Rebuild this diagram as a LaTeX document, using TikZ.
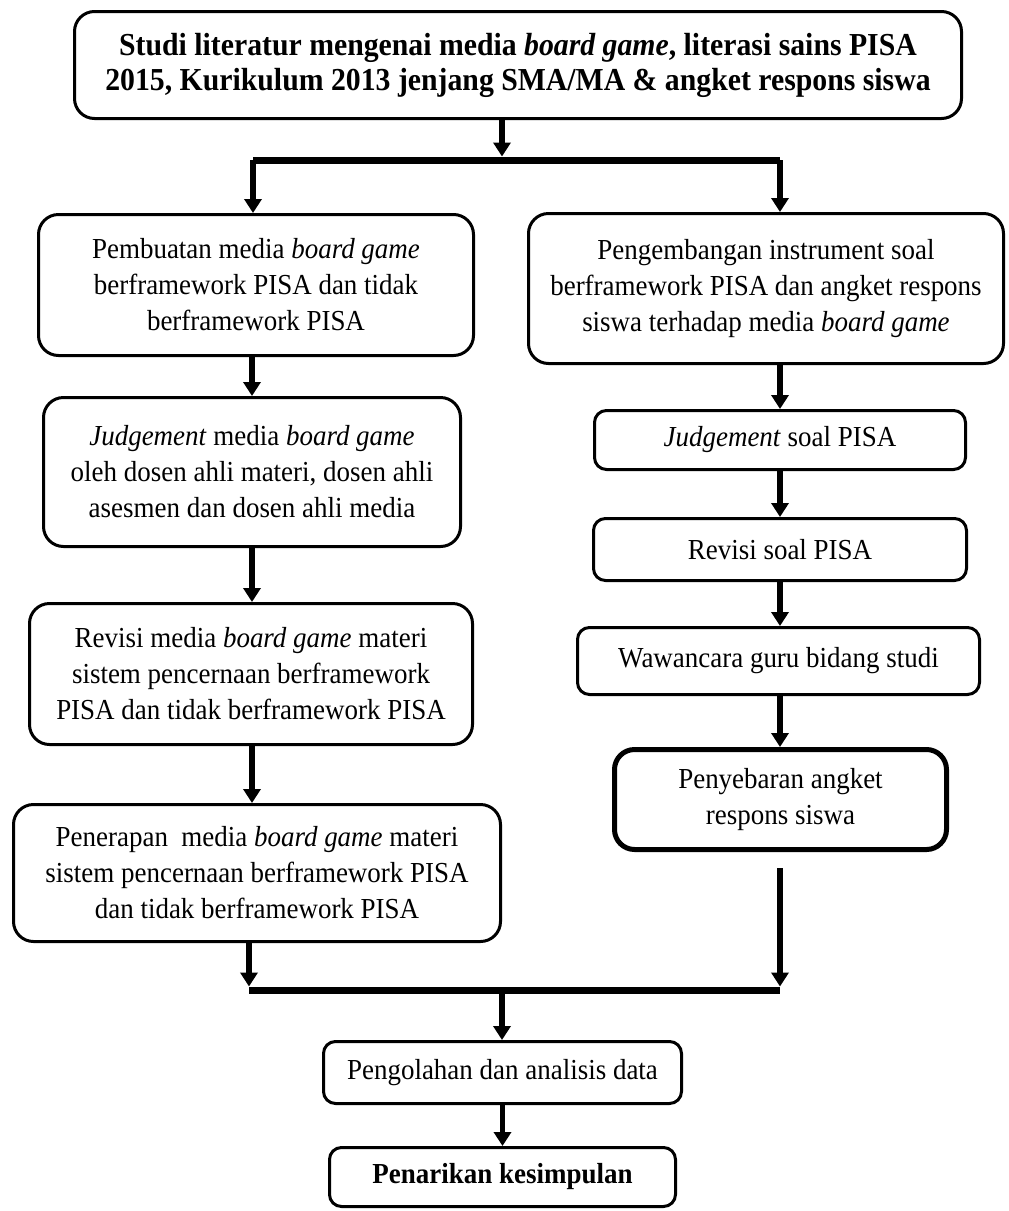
\documentclass[tikz,border=0pt]{standalone}
\usepackage{fontspec}
\setmainfont{Liberation Serif}[FakeStretch=0.93]
\usetikzlibrary{arrows.meta}

\begin{document}
\begin{tikzpicture}[x=0.5pt, y=-0.5pt,
    box/.style={draw, line width=1.5pt, rounded corners=10pt, align=center, inner sep=0pt, font=\fontsize{14.5}{18}\selectfont},
    smallbox/.style={box, rounded corners=6pt},
    arr/.style={line width=2.8pt, -{Triangle[width=8.5pt,length=7pt]}},
    bus/.style={line width=3.5pt}]
    \useasboundingbox (0,0) rectangle (1008,1211);
    \fill[white] (0,0) rectangle (1008,1211);

    \node[box, font=\fontsize{16}{17.5}\selectfont\bfseries, minimum width=443.5pt, minimum height=53.5pt] (studi) at (518,65)
        {Studi literatur mengenai media \textit{board game}, literasi sains PISA\\2015, Kurikulum 2013 jenjang SMA/MA \& angket respons siswa};

    \node[box, minimum width=217.5pt, minimum height=70.5pt] (buat) at (256,285)
        {Pembuatan media \textit{board game}\\berframework PISA dan tidak\\berframework PISA};
    \node[box, minimum width=208.5pt, minimum height=74.5pt] (judge) at (252,472)
        {\textit{Judgement} media \textit{board game}\\oleh dosen ahli materi, dosen ahli\\asesmen dan dosen ahli media};
    \node[box, minimum width=221.5pt, minimum height=70.5pt] (revisi) at (251,674)
        {Revisi media \textit{board game} materi\\sistem pencernaan berframework\\PISA dan tidak berframework PISA};
    \node[box, minimum width=243.5pt, minimum height=68.5pt] (terap) at (257,873)
        {Penerapan\ \ media \textit{board game} materi\\sistem pencernaan berframework PISA\\dan tidak berframework PISA};

    \node[box, minimum width=237.5pt, minimum height=75pt] (kembang) at (766,288.5)
        {Pengembangan instrument soal\\berframework PISA dan angket respons\\siswa terhadap media \textit{board game}};
    \node[smallbox, minimum width=185.5pt, minimum height=29.5pt] (judgesoal) at (780,440) {\textit{Judgement} soal PISA};
    \node[smallbox, minimum width=186.5pt, minimum height=31pt] (revsoal) at (780,549.5) {Revisi soal PISA};
    \node[smallbox, minimum width=201pt, minimum height=33.5pt] (wawancara) at (778.5,661) {Wawancara guru bidang studi};
    \node[box, line width=2.5pt, minimum width=166pt, minimum height=50pt] (sebar) at (780.5,799.5)
        {Penyebaran angket\\respons siswa};

    \node[smallbox, minimum width=179pt, minimum height=31pt] (olah) at (502.5,1072.5) {Pengolahan dan analisis data};
    \node[smallbox, font=\fontsize{14.5}{18}\selectfont\bfseries, minimum width=173pt, minimum height=29.5pt] (simpul) at (502.5,1177)
        {Penarikan kesimpulan};

    \coordinate (atas) at (502,160);
    \coordinate (atasL) at (253,160);
    \coordinate (atasR) at (780,160);
    \coordinate (kolL) at (252,0);
    \coordinate (kolR) at (780,0);
    \coordinate (bawah) at (502,990);
    \coordinate (bawahL) at (249,990);
    \coordinate (bawahR) at (780,990);

    \draw[arr, shorten >=1.75pt] (studi.south -| atas) -- (atas);
    \draw[bus] (atasL) -- (atasR);
    \draw[arr] (atasL) -- (buat.north -| atasL);
    \draw[arr] (atasR) -- (kembang.north -| atasR);

    \draw[arr] (buat.south -| kolL) -- (judge.north -| kolL);
    \draw[arr] (judge.south -| kolL) -- (revisi.north -| kolL);
    \draw[arr] (revisi.south -| kolL) -- (terap.north -| kolL);

    \draw[arr] (kembang.south -| kolR) -- (judgesoal.north -| kolR);
    \draw[arr] (judgesoal.south -| kolR) -- (revsoal.north -| kolR);
    \draw[arr] (revsoal.south -| kolR) -- (wawancara.north -| kolR);
    \draw[arr] (wawancara.south -| kolR) -- (sebar.north -| kolR);

    \draw[arr, shorten >=1.75pt] (terap.south -| bawahL) -- (bawahL);
    \draw[arr, shorten <=8pt, shorten >=1.75pt] (sebar.south -| bawahR) -- (bawahR);
    \draw[bus] (bawahL) -- (bawahR);
    \draw[arr] (bawah) -- (olah.north -| bawah);
    \draw[arr] (olah.south) -- (simpul.north);
\end{tikzpicture}
\end{document}
